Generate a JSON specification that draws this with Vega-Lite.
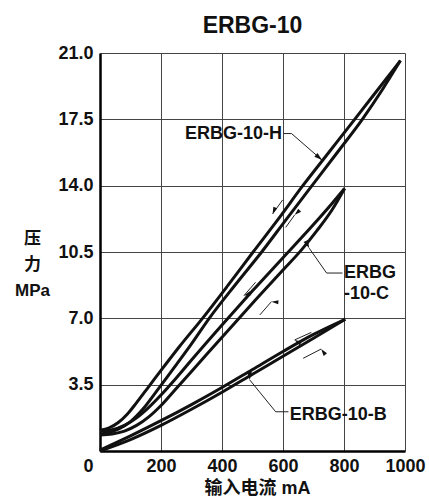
{
  "$schema": "https://vega.github.io/schema/vega-lite/v6.json",
  "autosize": "none",
  "width": 305,
  "height": 398,
  "padding": {"left": 100, "top": 53, "right": 24, "bottom": 47},
  "background": "white",
  "title": {"text": "ERBG-10", "font": "Liberation Sans", "fontSize": 23, "fontWeight": "bold", "color": "#111", "anchor": "middle", "baseline": "alphabetic", "offset": 21, "dy": 33},
  "config": {"view": {"stroke": null}},
  "datasets": {
    "curves": [
      {"series": "H-dec", "current": 0, "pressure": 1.1},
      {"series": "H-dec", "current": 30, "pressure": 1.22},
      {"series": "H-dec", "current": 60, "pressure": 1.5},
      {"series": "H-dec", "current": 90, "pressure": 1.95},
      {"series": "H-dec", "current": 120, "pressure": 2.55},
      {"series": "H-dec", "current": 160, "pressure": 3.4},
      {"series": "H-dec", "current": 200, "pressure": 4.25},
      {"series": "H-dec", "current": 260, "pressure": 5.5},
      {"series": "H-dec", "current": 336, "pressure": 7.0},
      {"series": "H-dec", "current": 420, "pressure": 8.75},
      {"series": "H-dec", "current": 502, "pressure": 10.5},
      {"series": "H-dec", "current": 585, "pressure": 12.25},
      {"series": "H-dec", "current": 665, "pressure": 14.0},
      {"series": "H-dec", "current": 750, "pressure": 15.75},
      {"series": "H-dec", "current": 835, "pressure": 17.5},
      {"series": "H-dec", "current": 910, "pressure": 19.05},
      {"series": "H-dec", "current": 985, "pressure": 20.6},
      {"series": "H-inc", "current": 0, "pressure": 0.9},
      {"series": "H-inc", "current": 30, "pressure": 0.98},
      {"series": "H-inc", "current": 60, "pressure": 1.15},
      {"series": "H-inc", "current": 100, "pressure": 1.55},
      {"series": "H-inc", "current": 140, "pressure": 2.2},
      {"series": "H-inc", "current": 190, "pressure": 3.25},
      {"series": "H-inc", "current": 250, "pressure": 4.55},
      {"series": "H-inc", "current": 300, "pressure": 5.65},
      {"series": "H-inc", "current": 358, "pressure": 7.0},
      {"series": "H-inc", "current": 445, "pressure": 8.8},
      {"series": "H-inc", "current": 530, "pressure": 10.5},
      {"series": "H-inc", "current": 612, "pressure": 12.25},
      {"series": "H-inc", "current": 695, "pressure": 14.0},
      {"series": "H-inc", "current": 778, "pressure": 15.75},
      {"series": "H-inc", "current": 860, "pressure": 17.5},
      {"series": "H-inc", "current": 925, "pressure": 19.05},
      {"series": "H-inc", "current": 985, "pressure": 20.6},
      {"series": "C-dec", "current": 0, "pressure": 1.05},
      {"series": "C-dec", "current": 40, "pressure": 1.12},
      {"series": "C-dec", "current": 80, "pressure": 1.35},
      {"series": "C-dec", "current": 120, "pressure": 1.75},
      {"series": "C-dec", "current": 160, "pressure": 2.3},
      {"series": "C-dec", "current": 200, "pressure": 2.95},
      {"series": "C-dec", "current": 250, "pressure": 3.85},
      {"series": "C-dec", "current": 300, "pressure": 4.8},
      {"series": "C-dec", "current": 400, "pressure": 6.65},
      {"series": "C-dec", "current": 500, "pressure": 8.45},
      {"series": "C-dec", "current": 600, "pressure": 10.2},
      {"series": "C-dec", "current": 700, "pressure": 11.95},
      {"series": "C-dec", "current": 760, "pressure": 13.05},
      {"series": "C-dec", "current": 802, "pressure": 13.85},
      {"series": "C-inc", "current": 0, "pressure": 0.85},
      {"series": "C-inc", "current": 40, "pressure": 0.9},
      {"series": "C-inc", "current": 80, "pressure": 1.05},
      {"series": "C-inc", "current": 120, "pressure": 1.35},
      {"series": "C-inc", "current": 160, "pressure": 1.8},
      {"series": "C-inc", "current": 200, "pressure": 2.4},
      {"series": "C-inc", "current": 250, "pressure": 3.3},
      {"series": "C-inc", "current": 300, "pressure": 4.2},
      {"series": "C-inc", "current": 400, "pressure": 6.0},
      {"series": "C-inc", "current": 500, "pressure": 7.8},
      {"series": "C-inc", "current": 600, "pressure": 9.55},
      {"series": "C-inc", "current": 660, "pressure": 10.6},
      {"series": "C-inc", "current": 710, "pressure": 11.6},
      {"series": "C-inc", "current": 760, "pressure": 12.7},
      {"series": "C-inc", "current": 802, "pressure": 13.85},
      {"series": "B-dec", "current": 0, "pressure": 0.05},
      {"series": "B-dec", "current": 100, "pressure": 0.8},
      {"series": "B-dec", "current": 200, "pressure": 1.6},
      {"series": "B-dec", "current": 300, "pressure": 2.45},
      {"series": "B-dec", "current": 400, "pressure": 3.35},
      {"series": "B-dec", "current": 500, "pressure": 4.3},
      {"series": "B-dec", "current": 600, "pressure": 5.25},
      {"series": "B-dec", "current": 700, "pressure": 6.15},
      {"series": "B-dec", "current": 804, "pressure": 6.95},
      {"series": "B-inc", "current": 0, "pressure": 0.0},
      {"series": "B-inc", "current": 100, "pressure": 0.6},
      {"series": "B-inc", "current": 200, "pressure": 1.35},
      {"series": "B-inc", "current": 300, "pressure": 2.2},
      {"series": "B-inc", "current": 400, "pressure": 3.1},
      {"series": "B-inc", "current": 500, "pressure": 4.05},
      {"series": "B-inc", "current": 600, "pressure": 5.0},
      {"series": "B-inc", "current": 700, "pressure": 5.95},
      {"series": "B-inc", "current": 804, "pressure": 6.95}
    ],
    "pointers": [
      {"arrow": "H-label", "seq": 1, "current": 600, "pressure": 16.75},
      {"arrow": "H-label", "seq": 2, "current": 628, "pressure": 16.75},
      {"arrow": "H-label", "seq": 3, "current": 728, "pressure": 15.35},
      {"arrow": "C-label", "seq": 1, "current": 795, "pressure": 9.39},
      {"arrow": "C-label", "seq": 2, "current": 743, "pressure": 9.39},
      {"arrow": "C-label", "seq": 3, "current": 686, "pressure": 10.7},
      {"arrow": "B-label", "seq": 1, "current": 618, "pressure": 2.07},
      {"arrow": "B-label", "seq": 2, "current": 576, "pressure": 2.07},
      {"arrow": "B-label", "seq": 3, "current": 491, "pressure": 3.75},
      {"arrow": "H-dec", "seq": 1, "current": 599, "pressure": 13.25},
      {"arrow": "H-dec", "seq": 2, "current": 566, "pressure": 12.51},
      {"arrow": "H-inc", "seq": 1, "current": 609, "pressure": 11.8},
      {"arrow": "H-inc", "seq": 2, "current": 638, "pressure": 12.45},
      {"arrow": "C-dec", "seq": 1, "current": 510, "pressure": 8.9},
      {"arrow": "C-dec", "seq": 2, "current": 472, "pressure": 8.2},
      {"arrow": "C-inc", "seq": 1, "current": 524, "pressure": 7.18},
      {"arrow": "C-inc", "seq": 2, "current": 562, "pressure": 7.88},
      {"arrow": "B-dec", "seq": 1, "current": 693, "pressure": 6.26},
      {"arrow": "B-dec", "seq": 2, "current": 638, "pressure": 5.86},
      {"arrow": "B-inc", "seq": 1, "current": 666, "pressure": 4.89},
      {"arrow": "B-inc", "seq": 2, "current": 725, "pressure": 5.38}
    ],
    "heads": [
      {"arrow": "H-label", "kind": "leader", "current": 728, "pressure": 15.35},
      {"arrow": "C-label", "kind": "leader", "current": 686, "pressure": 10.7},
      {"arrow": "B-label", "kind": "leader", "current": 491, "pressure": 3.75},
      {"arrow": "H-dec", "kind": "direction", "current": 566, "pressure": 12.51},
      {"arrow": "H-inc", "kind": "direction", "current": 638, "pressure": 12.45},
      {"arrow": "C-dec", "kind": "direction", "current": 472, "pressure": 8.2},
      {"arrow": "C-inc", "kind": "direction", "current": 562, "pressure": 7.88},
      {"arrow": "B-dec", "kind": "direction", "current": 638, "pressure": 5.86},
      {"arrow": "B-inc", "kind": "direction", "current": 725, "pressure": 5.38}
    ],
    "labels": [
      {"label": "ERBG-10-H", "side": "right", "current": 597, "pressure": 16.73},
      {"label": "ERBG", "side": "left", "current": 800, "pressure": 9.37},
      {"label": "-10-C", "side": "left", "current": 800, "pressure": 8.26},
      {"label": "ERBG-10-B", "side": "left", "current": 622, "pressure": 1.9}
    ]
  },
  "encoding": {
    "x": {
      "field": "current", "type": "quantitative",
      "scale": {"domain": [0, 1000], "nice": false, "zero": false},
      "axis": {
        "values": [0, 200, 400, 600, 800, 1000], "format": "d",
        "grid": true, "gridColor": "#444", "gridWidth": 1,
        "ticks": false, "domainColor": "#000", "domainWidth": 2.5,
        "labelFont": "Liberation Sans", "labelFontSize": 18, "labelFontWeight": "bold", "labelColor": "#111",
        "labelPadding": 6, "labelFlush": false, "labelOverlap": false,
        "labelOffset": {"condition": {"test": "datum.value === 0", "value": -12}, "value": 0},
        "title": "输入电流 mA",
        "titleFont": "Liberation Sans, Noto Sans CJK SC", "titleFontSize": 18, "titleFontWeight": "bold", "titleColor": "#111",
        "titleBaseline": "top", "titleAlign": "center", "titleX": 157, "titleY": 28
      }
    },
    "y": {
      "field": "pressure", "type": "quantitative",
      "scale": {"domain": [0, 21], "nice": false, "zero": true},
      "axis": {
        "values": [3.5, 7, 10.5, 14, 17.5, 21], "format": ".1f",
        "grid": true, "gridColor": "#444", "gridWidth": 1,
        "ticks": false, "domainColor": "#000", "domainWidth": 2.5,
        "labelFont": "Liberation Sans", "labelFontSize": 18, "labelFontWeight": "bold", "labelColor": "#111",
        "labelPadding": 7, "labelOverlap": false, "labelFlush": false,
        "title": ["压", "力", "MPa"],
        "titleFont": "Liberation Sans, Noto Sans CJK SC", "titleFontSize": 17, "titleFontWeight": "bold", "titleColor": "#111",
        "titleAngle": 0, "titleAlign": "center", "titleBaseline": "top", "titleX": -68, "titleY": 177, "titleLineHeight": 26
      }
    }
  },
  "layer": [
    {
      "data": {"name": "curves"},
      "mark": {"type": "line", "color": "#111", "strokeWidth": 3, "interpolate": "monotone", "clip": false},
      "encoding": {"detail": {"field": "series", "type": "nominal"}}
    },
    {
      "data": {"name": "pointers"},
      "mark": {"type": "line", "color": "#222", "strokeWidth": 1},
      "encoding": {
        "detail": {"field": "arrow", "type": "nominal"},
        "order": {"field": "seq", "type": "quantitative"}
      }
    },
    {
      "data": {"name": "heads"},
      "mark": {"type": "point", "filled": true, "opacity": 1, "color": "#111", "shape": "M0,0L-2,-0.6L-2,0.6Z"},
      "encoding": {
        "angle": {"field": "arrow", "type": "nominal", "legend": null,
          "scale": {"domain": ["H-label", "C-label", "B-label", "H-dec", "H-inc", "C-dec", "C-inc", "B-dec", "B-inc"],
                    "range": [40, 233, 231, 125, 306, 131, 311, 156, 333]}},
        "size": {"field": "kind", "type": "nominal", "legend": null,
          "scale": {"domain": ["leader", "direction"], "range": [64, 49]}}
      }
    },
    {
      "data": {"name": "labels"},
      "transform": [{"filter": "datum.side === 'right'"}],
      "mark": {"type": "text", "align": "right", "baseline": "middle", "font": "Liberation Sans", "fontSize": 18, "fontWeight": "bold", "color": "#111"},
      "encoding": {"text": {"field": "label"}}
    },
    {
      "data": {"name": "labels"},
      "transform": [{"filter": "datum.side === 'left'"}],
      "mark": {"type": "text", "align": "left", "baseline": "middle", "font": "Liberation Sans", "fontSize": 18, "fontWeight": "bold", "color": "#111"},
      "encoding": {"text": {"field": "label"}}
    }
  ]
}
